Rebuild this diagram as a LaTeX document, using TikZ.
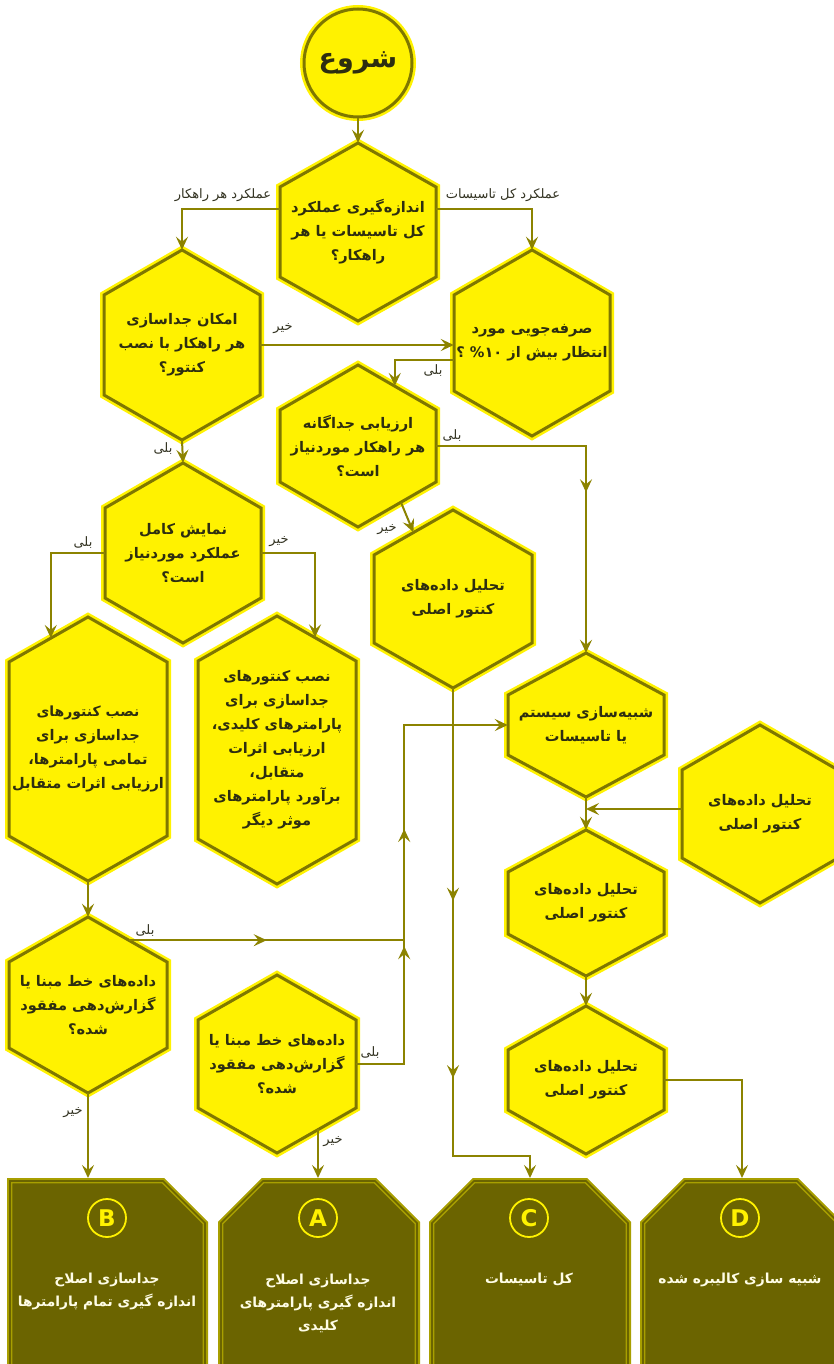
\documentclass[tikz,border=0pt]{standalone}
\usepackage{fontspec}
\usetikzlibrary{arrows.meta,calc,decorations.markings}
\TeXXeTstate=1
\newfontfamily\farsi[Script=Arabic]{DejaVu Sans}
\newfontfamily\latinb{DejaVu Sans}
\newcommand\fa[1]{\beginR #1\endR}
\definecolor{hexyel}{HTML}{FFF200}
\definecolor{hexol}{HTML}{7F7700}
\definecolor{linol}{HTML}{8C8300}
\definecolor{boxdark}{HTML}{6B6400}
\definecolor{boxlight}{HTML}{A89F00}
\definecolor{txtc}{HTML}{2E2E10}
\definecolor{lblc}{HTML}{333322}
\definecolor{boxtxt}{HTML}{FFFDE6}
\tikzset{
  tipa/.tip={Stealth[length=13pt,width=12pt,inset=5pt]},
  hexpath/.style={fill=hexyel,draw=hexol,line width=3pt,preaction={draw=hexyel,line width=8pt}},
  hexnode/.style={inner sep=0pt,align=center,text=txtc,font={\farsi\bfseries\fontsize{14.6}{24}\selectfont}},
  conn/.style={draw=linol,line width=2pt,-tipa},
  plainconn/.style={draw=linol,line width=2pt},
  midarr/.style={postaction={decorate,decoration={markings,mark=at position #1 with {\arrow{tipa}}}}},
  lbl/.style={inner sep=0pt,text=lblc,font={\farsi\fontsize{13}{13}\selectfont}},
  boxshape/.style={fill=boxdark,draw=boxlight,line width=1.6pt,double=boxdark,double distance=1.6pt},
  boxouter/.style={draw=boxlight,line width=6pt},
  boxtext/.style={inner sep=0pt,align=center,text=boxtxt,font={\farsi\bfseries\fontsize{13.8}{23}\selectfont}},
  badge/.style={circle,draw=hexyel,line width=1.8pt,minimum size=38pt,inner sep=0pt,text=hexyel,font={\latinb\bfseries\fontsize{23}{23}\selectfont}},
  anch/.style={inner sep=0pt,minimum width=196pt,minimum height=1pt,anchor=north}
}
\newcommand\hexshape[7]{%
  \path[hexpath] ({#2},{#3-#5}) -- ({#2+#4},{#3-#5+#6}) -- ({#2+#4},{#3+#5-#6}) -- ({#2},{#3+#5}) -- ({#2-#4},{#3+#5-#6}) -- ({#2-#4},{#3-#5+#6}) -- cycle;
  \node[hexnode,minimum width={2*#4pt},minimum height={2*#5pt}] (#1) at (#2,#3) {#7};
}
\begin{document}
\begin{tikzpicture}[x=1pt,y=-1pt]
\useasboundingbox (0,0) rectangle (834,1364);
\clip (0,0) rectangle (834,1364);
\fill[white] (0,0) rectangle (834,1364);

% start
\node[circle,minimum size=108pt,inner sep=0pt,fill=hexyel,draw=hexol,line width=3pt,preaction={draw=hexyel,line width=8pt},text=txtc,font={\farsi\bfseries\fontsize{27}{27}\selectfont}] (start) at (358,63) {\raisebox{-3pt}{\fa{شروع}}};

\hexshape{h1}{358}{232}{78}{89}{44}{\fa{اندازه‌گیری عملکرد}\\\fa{کل تاسیسات یا هر}\\\fa{راهکار؟}}
\hexshape{h2}{182}{345}{78}{95}{45}{\fa{امکان جداسازی}\\\fa{هر راهکار با نصب}\\\fa{کنتور؟}}
\hexshape{h3}{532}{343}{78}{93}{45}{\fa{صرفه‌جویی مورد}\\\fa{انتظار بیش از \beginL\%۱۰\endL{} ؟}}
\hexshape{h4}{358}{446}{78}{81}{45}{\fa{ارزیابی جداگانه}\\\fa{هر راهکار موردنیاز}\\\fa{است؟}}
\hexshape{h5}{453}{599}{79}{89}{45}{\fa{تحلیل داده‌های}\\\fa{کنتور اصلی}}
\hexshape{h6}{183}{553}{78}{90}{45}{\fa{نمایش کامل}\\\fa{عملکرد موردنیاز}\\\fa{است؟}}
\hexshape{h7}{88}{749}{79}{132}{45}{\fontsize{14}{24}\selectfont\fa{نصب کنتورهای}\\\fa{جداسازی برای}\\\fa{تمامی پارامترها،}\\\fa{ارزیابی اثرات متقابل}}
\hexshape{h8}{277}{750}{79}{134}{45}{\fa{نصب کنتورهای}\\\fa{جداسازی برای}\\\fa{پارامترهای کلیدی،}\\\fa{ارزیابی اثرات}\\\fa{متقابل،}\\\fa{برآورد پارامترهای}\\\fa{موثر دیگر}}
\hexshape{h10}{586}{725}{78}{72}{42}{\fa{شبیه‌سازی سیستم}\\\fa{یا تاسیسات}}
\hexshape{h11}{760}{814}{78}{89}{45}{\fa{تحلیل داده‌های}\\\fa{کنتور اصلی}}
\hexshape{h12}{586}{903}{78}{73}{42}{\fa{تحلیل داده‌های}\\\fa{کنتور اصلی}}
\hexshape{h13}{586}{1080}{78}{74}{44}{\fa{تحلیل داده‌های}\\\fa{کنتور اصلی}}
\hexshape{h9a}{88}{1005}{79}{88}{45}{\fa{داده‌های خط مبنا یا}\\\fa{گزارش‌دهی مفقود}\\\fa{شده؟}}
\hexshape{h9b}{277}{1064}{79}{89}{45}{\fa{داده‌های خط مبنا یا}\\\fa{گزارش‌دهی مفقود}\\\fa{شده؟}}

% bottom boxes
\path[boxouter] (10,1380) -- (10,1181) -- (163,1181) -- (205,1223) -- (205,1380);
\path[boxshape] (10,1380) -- (10,1181) -- (163,1181) -- (205,1223) -- (205,1380) -- cycle;
\path[boxouter] (221,1380) -- (221,1223) -- (263,1181) -- (375,1181) -- (417,1223) -- (417,1380);
\path[boxshape] (221,1380) -- (221,1223) -- (263,1181) -- (375,1181) -- (417,1223) -- (417,1380) -- cycle;
\path[boxouter] (432,1380) -- (432,1223) -- (474,1181) -- (586,1181) -- (628,1223) -- (628,1380);
\path[boxshape] (432,1380) -- (432,1223) -- (474,1181) -- (586,1181) -- (628,1223) -- (628,1380) -- cycle;
\path[boxouter] (643,1380) -- (643,1223) -- (685,1181) -- (797,1181) -- (839,1223) -- (839,1380);
\path[boxshape] (643,1380) -- (643,1223) -- (685,1181) -- (797,1181) -- (839,1223) -- (839,1380) -- cycle;

\node[anch] (boxB) at (88,1178) {};
\node[anch] (boxA) at (318,1178) {};
\node[anch] (boxC) at (530,1178) {};
\node[anch] (boxD) at (742,1178) {};

\node[badge] (cB) at (107,1218) {B};
\node[badge] (cA) at (318,1218) {A};
\node[badge] (cC) at (529,1218) {C};
\node[badge] (cD) at (740,1218) {D};

\node[boxtext] (tB) at (107,1291) {\fa{جداسازی اصلاح}\\\fa{اندازه گیری تمام پارامترها}};
\node[boxtext] (tA) at (318,1303) {\fa{جداسازی اصلاح}\\\fa{اندازه گیری پارامترهای}\\\fa{کلیدی}};
\node[boxtext] (tC) at (529,1280) {\fa{کل تاسیسات}};
\node[boxtext] (tD) at (740,1280) {\fa{شبیه سازی کالیبره شده}};

% connectors
\draw[conn] (start.south) -- (h1.north);
\draw[conn] ([yshift=23pt]h1.west) -| (h2.north);
\draw[conn] ([yshift=23pt]h1.east) -| (h3.north);
\node[lbl] (l1) at (223,195) {\fa{عملکرد هر راهکار}};
\node[lbl] (l2) at (503,195) {\fa{عملکرد کل تاسیسات}};

\draw[conn] (h2.east) -- (h2.east -| h3.west);
\node[lbl] (l3) at (283,329) {\fa{خیر}};

\coordinate (h4in) at ($(h4.north)!0.47!([yshift=-45pt]h4.north east)$);
\draw[conn] ([yshift=-17pt]h3.west) -| (h4in);
\node[lbl] (l4) at (433,371) {\fa{بلی}};

\draw[conn] (h2.south) -- (h6.north);
\node[lbl] (l5) at (163,449) {\fa{بلی}};

\draw[conn,midarr=0.55] (h4.east) -| (h10.north);
\node[lbl] (l6) at (452,436) {\fa{بلی}};

\coordinate (h4out) at ($(h4.south)!0.55!([yshift=45pt]h4.south east)$);
\coordinate (h5in) at ($(h5.north)!0.5!([yshift=-45pt]h5.north west)$);
\draw[conn] (h4out) -- (h5in);
\node[lbl] (l7) at (387,530) {\fa{خیر}};

\coordinate (h7in) at ($(h7.north)!0.47!([yshift=-45pt]h7.north west)$);
\draw[conn] (h6.west) -| (h7in);
\node[lbl] (l8) at (83,543) {\fa{بلی}};
\coordinate (h8in) at ($(h8.north)!0.48!([yshift=-45pt]h8.north east)$);
\draw[conn] (h6.east) -| (h8in);
\node[lbl] (l9) at (279,542) {\fa{خیر}};

\draw[conn,midarr=0.375,midarr=0.688] (h5.south) |- ([yshift=22pt]boxC.north) -- (boxC.north);

\draw[conn] (h10.south) -- (h12.north);
\draw[conn] ([yshift=5pt]h11.west) -- ([yshift=5pt]h11.west -| h10.south);
\draw[conn] (h12.south) -- (h13.north);
\draw[conn] (h13.east) -| (boxD.north);

\draw[conn] (h7.south) -- (h9a.north);

\coordinate (jx) at ([xshift=48pt]h9b.east);
\draw[conn,midarr=0.338,midarr=0.577] (h9b.east) -- (jx) |- (h10.west);
\node[lbl] (l10) at (370,1053) {\fa{بلی}};

\coordinate (h9aout) at ($(h9a.north)!0.52!([yshift=-45pt]h9a.north east)$);
\draw[plainconn,midarr=0.5] (h9aout) -- (h9aout -| jx);
\node[lbl] (l11) at (145,931) {\fa{بلی}};

\draw[conn] (h9a.south) -- (boxB.north);
\node[lbl] (l12) at (73,1113) {\fa{خیر}};

\coordinate (h9bout) at ($(h9b.south)!0.52!([yshift=45pt]h9b.south east)$);
\draw[conn] (h9bout) -- (h9bout -| boxA.north) -- (boxA.north);
\node[lbl] (l13) at (333,1142) {\fa{خیر}};
\end{tikzpicture}
\end{document}
